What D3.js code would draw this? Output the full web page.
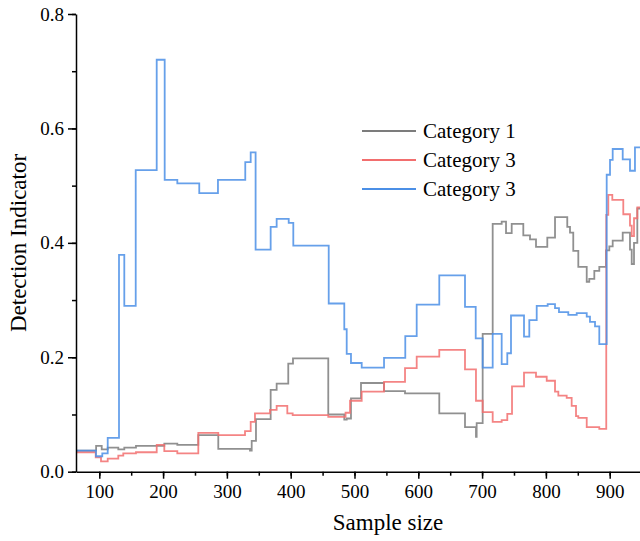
<!doctype HTML>
<html lang='en'>

<head>
	<meta charset='utf-8'>
	<title>Detection indicator step chart</title>
	<script src='https://d3js.org/d3.v7.min.js'></script>

	<style>
		html,
		body {
			margin: 0;
			padding: 0;
			background: #fff;
		}

		#container svg {
			display: block;
		}

		#container text {
			font-family: 'Liberation Serif', 'Times New Roman', serif;
		}
	</style>
</head>

<body>
	<div id='container'></div>
</body>

<script>
	// Step data: [sample size, value], each value holds until the next x
	const category1 = [
		[63.5, 0.037], [95, 0.045], [103.8, 0.039], [113.2, 0.042], [129.8, 0.039], [139.2, 0.042],
		[157.5, 0.045], [201.9, 0.049], [222.3, 0.047], [255.2, 0.064], [286.5, 0.040], [336.2, 0.037],
		[338.9, 0.054], [345.6, 0.092], [368.6, 0.143], [378, 0.154], [396.2, 0.189], [403.6, 0.198],
		[458.9, 0.100], [484, 0.091], [487.8, 0.093], [494.5, 0.128], [510.2, 0.155], [546.3, 0.141],
		[579.2, 0.137], [632.9, 0.102], [673.2, 0.078], [690.4, 0.061], [691.5, 0.085], [700.9, 0.241],
		[716.6, 0.433], [730.7, 0.437], [737.5, 0.417], [746.4, 0.433], [764.6, 0.413], [775.1, 0.406],
		[784.5, 0.393], [802.2, 0.409], [814.3, 0.445], [833.5, 0.428], [837.8, 0.418], [842.9, 0.386],
		[850.8, 0.358], [864, 0.332], [868, 0.337], [875.9, 0.351], [883.7, 0.358], [894.2, 0.387],
		[899.4, 0.394], [904.7, 0.404], [920.4, 0.418], [931.8, 0.388], [934.5, 0.363], [938.1, 0.400],
		[943.3, 0.460], [950, 0.460]
	];

	const category2 = [
		[63.5, 0.034], [94.4, 0.025], [102.7, 0.018], [113.2, 0.023], [129.8, 0.028], [137.6, 0.032],
		[157.5, 0.034], [190, 0.047], [201.9, 0.036], [222.3, 0.032], [255.2, 0.068], [286.5, 0.064],
		[328.4, 0.071], [337.3, 0.087], [344, 0.102], [367.6, 0.108], [378, 0.115], [394.7, 0.102],
		[403.1, 0.099], [458.9, 0.096], [486, 0.103], [493, 0.124], [511.3, 0.140], [546.3, 0.157],
		[579.2, 0.181], [597.5, 0.201], [632.9, 0.213], [673.2, 0.179], [690.4, 0.124], [700.9, 0.104],
		[716.6, 0.087], [730.7, 0.090], [739.5, 0.101], [746.9, 0.149], [765.7, 0.173], [784.5, 0.166],
		[801.3, 0.159], [814.3, 0.140], [819.5, 0.133], [832.6, 0.129], [840.4, 0.115], [847.2, 0.097],
		[850.8, 0.094], [864, 0.078], [883.7, 0.075], [894.6, 0.449], [897.8, 0.484], [904.1, 0.475],
		[921.3, 0.450], [931.8, 0.430], [934.5, 0.412], [938.1, 0.443], [943.3, 0.462], [950, 0.462]
	];

	const category3 = [
		[63.5, 0.037], [94.8, 0.027], [104.7, 0.032], [113.2, 0.059], [130.9, 0.379], [139.2, 0.290],
		[157.1, 0.527], [190, 0.720], [202.5, 0.510], [222.3, 0.504], [256.7, 0.487], [286, 0.510],
		[328.8, 0.541], [337.3, 0.558], [345, 0.388], [368.6, 0.428], [378, 0.442], [396.9, 0.435],
		[404.1, 0.395], [459.6, 0.294], [484, 0.249], [487.8, 0.206], [494.5, 0.190], [511.3, 0.182],
		[546.3, 0.199], [579.6, 0.237], [597.5, 0.292], [632.9, 0.343], [673.2, 0.288], [690, 0.233],
		[700.9, 0.182], [716.6, 0.241], [730.7, 0.188], [739.5, 0.207], [745.3, 0.273], [765.7, 0.236],
		[774, 0.265], [785.6, 0.290], [802.8, 0.293], [814.3, 0.286], [820.5, 0.279], [835.1, 0.274],
		[848.3, 0.277], [864, 0.271], [869.1, 0.262], [877, 0.254], [883.7, 0.223], [895.3, 0.519],
		[900.5, 0.545], [904.7, 0.564], [920.4, 0.546], [931.8, 0.526], [939.6, 0.567], [950, 0.567]
	];

	const seriesNames = ['Category 1', 'Category 3', 'Category 3'];
	const seriesColors = ['#7c7c7c', '#f26e6e', '#4b8fe6'];

	const xTicks = [100, 200, 300, 400, 500, 600, 700, 800, 900];
	const xMinorTicks = d3.range(100, 950, 50);
	const yTicks = [0, 0.2, 0.4, 0.6, 0.8];
	const yMinorTicks = [0, 0.1, 0.2, 0.3, 0.4, 0.5, 0.6, 0.7, 0.8];

	const width = 640, height = 541;
	const plot = {left: 76, right: 640, top: 14, bottom: 471.7};

	const x = d3.scaleLinear().domain([63.5, 947.5]).range([plot.left, plot.right]);
	const y = d3.scaleLinear().domain([0, 0.8]).range([plot.bottom, plot.top]);

	const svg = d3.select('#container').append('svg')
		.attr('width', width)
		.attr('height', height);

	svg.append('clipPath')
		.attr('id', 'plot-clip')
		.append('rect')
		.attr('x', plot.left)
		.attr('y', 0)
		.attr('width', plot.right - plot.left)
		.attr('height', plot.bottom);

	// Lines
	const line = d3.line()
		.x((d) => x(d[0]))
		.y((d) => y(d[1]))
		.curve(d3.curveStepAfter);

	svg.append('g')
		.attr('clip-path', 'url(#plot-clip)')
		.selectAll('path')
		.data([category1, category2, category3])
		.enter()
		.append('path')
		.attr('d', line)
		.attr('fill', 'none')
		.attr('stroke', (d, i) => seriesColors[i])
		.attr('stroke-width', 1.8)
		.attr('stroke-opacity', 0.85);

	// X axis: minor ticks, then labelled ones
	const xAxisG = svg.append('g')
		.attr('transform', 'translate(0,' + plot.bottom + ')');

	xAxisG.append('g')
		.call(d3.axisBottom(x).tickValues(xMinorTicks).tickSize(4).tickFormat(''))
		.call((g) => g.select('.domain').remove());

	xAxisG.append('g')
		.call(d3.axisBottom(x).tickValues(xTicks).tickSize(7).tickSizeOuter(0).tickPadding(6).tickFormat(d3.format('d')))
		.call((g) => g.selectAll('text').attr('fill', '#000').style('font-size', '19px'));

	// Y axis
	const yAxisG = svg.append('g')
		.attr('transform', 'translate(' + plot.left + ',0)');

	yAxisG.append('g')
		.call(d3.axisLeft(y).tickValues(yMinorTicks).tickSize(4).tickFormat(''))
		.call((g) => g.select('.domain').remove());

	yAxisG.append('g')
		.call(d3.axisLeft(y).tickValues(yTicks).tickSize(8).tickSizeOuter(0).tickPadding(4).tickFormat(d3.format('.1f')))
		.call((g) => g.selectAll('text').attr('fill', '#000').style('font-size', '19px'));

	svg.selectAll('.domain, .tick line')
		.attr('stroke', '#000')
		.attr('stroke-width', 1.5);

	// Axis titles
	svg.append('text')
		.attr('x', 388)
		.attr('y', 530)
		.attr('text-anchor', 'middle')
		.style('font-size', '23px')
		.text('Sample size');

	svg.append('text')
		.attr('transform', 'translate(26,243) rotate(-90)')
		.attr('text-anchor', 'middle')
		.style('font-size', '23px')
		.text('Detection Indicator');

	// Legend
	const legend = svg.append('g')
		.selectAll('g')
		.data(seriesNames)
		.enter()
		.append('g')
		.attr('transform', (d, i) => 'translate(362,' + (131 + i * 29) + ')');

	legend.append('line')
		.attr('x1', 0)
		.attr('x2', 54)
		.attr('stroke', (d, i) => seriesColors[i])
		.attr('stroke-width', 1.8);

	legend.append('text')
		.attr('x', 61)
		.attr('y', 7)
		.style('font-size', '21px')
		.text((d) => d);
</script>

</html>
